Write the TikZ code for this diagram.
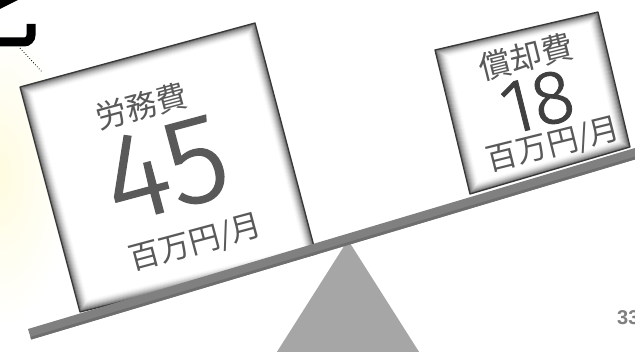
\documentclass[tikz,border=0pt]{standalone}
\usepackage{fontspec}
\newfontfamily\jp{Noto Sans CJK JP}
\newfontfamily\thin{Fira Sans Light}[FakeBold=1.2]
\newfontfamily\arialf{Liberation Sans}
\usetikzlibrary{calc}
\definecolor{txt}{HTML}{595959}
\definecolor{txtd}{HTML}{404040}
\definecolor{beamc}{HTML}{808080}
\definecolor{beamd}{HTML}{6E6E6E}
\definecolor{tric}{HTML}{A6A6A6}
\definecolor{pale}{HTML}{FFFCE0}
\definecolor{pnum}{HTML}{7F7F7F}
\newcommand\bevbox[5]{%
  \fill[white] (#1)--(#2)--(#3)--(#4)--cycle;
  \foreach \i/\c in {1/58,2/49,3/41,4/34,5/27,6/21,7/16,8/11,9/7,10/3}{
    \pgfmathsetmacro\dd{\i*1.3}
    \draw[black!\c, line width=1.4pt] ($(#1)!\dd pt!(#5)$)--($(#2)!\dd pt!(#5)$)--($(#3)!\dd pt!(#5)$)--($(#4)!\dd pt!(#5)$)--cycle;}
  \draw[black!78, line width=1.3pt, line join=round] (#1)--(#2)--(#3)--(#4)--cycle;
}
\tikzset{
  lbl/.style={text=txt, inner sep=0pt, text depth=0pt},
}
\begin{document}
\begin{tikzpicture}[x=1pt,y=-1pt]
\useasboundingbox (0,0) rectangle (635,352);
\clip (0,0) rectangle (635,352);
\fill[white] (0,0) rectangle (635,352);
\shade[inner color=pale, outer color=white] (0,175) ellipse (70 and 150);
% top-left black fragment
\fill[black] (0,0) -- (18,0) -- (0,9) -- cycle;
\draw[black, line width=9pt, rounded corners=7pt] (-6,42) -- (31,42) -- (31,24);
% dotted leader
\coordinate (d1) at (20,48);
\coordinate (d2) at (42,72);
\draw[black, dotted, line width=0.8pt] (d1) -- (d2);
% left box
\coordinate (A) at (20,87);
\coordinate (B) at (255,23);
\coordinate (C) at (316,254);
\coordinate (D) at (80,312);
\coordinate (O1) at (167.5,169);
\bevbox{A}{B}{C}{D}{O1}
\node[lbl, rotate=15, text height=24pt, font=\jp\fontsize{31}{31}\selectfont] (l1) at (141,106) {労務費};
\node[lbl, rotate=15, text height=84pt, font=\thin\fontsize{124}{124}\selectfont] (l2) at (165,168) {45};
\node[lbl, rotate=15, text height=24pt, font=\jp\fontsize{31}{31}\selectfont] (l3) at (195,241) {百万円/月};
% right box
\coordinate (E) at (435,50);
\coordinate (F) at (598,12);
\coordinate (G) at (630,147);
\coordinate (H) at (470,194);
\coordinate (O2) at (533,101);
\bevbox{E}{F}{G}{H}{O2}
\node[lbl, rotate=14, text height=24pt, font=\jp\fontsize{32}{32}\selectfont] (r1) at (526,57) {償却費};
\node[lbl, rotate=14, text=txtd, text height=52pt, font=\thin\fontsize{76}{76}\selectfont] (r2) at (537,101) {18};
\node[lbl, rotate=14, text height=24pt, font=\jp\fontsize{31}{31}\selectfont] (r3) at (553,143) {百万円/月};
% fulcrum
\coordinate (t1) at (348,240);
\coordinate (t2) at (268,366);
\coordinate (t3) at (428,366);
\fill[tric] (t1) -- (t2) -- (t3) -- cycle;
% beam
\coordinate (b1) at (28,329);
\coordinate (b2) at (650,143.5);
\coordinate (b3) at (653.2,154);
\coordinate (b4) at (31.2,339.5);
\fill[beamc] (b1) -- (b2) -- (b3) -- (b4) -- cycle;
\fill[beamd] ($(b4)!0.25!(b1)$) -- ($(b3)!0.25!(b2)$) -- (b3) -- (b4) -- cycle;
% page number
\node[text=pnum, anchor=west, inner sep=0pt, font=\arialf\bfseries\fontsize{20}{20}\selectfont] (pg) at (617,318) {33};
\end{tikzpicture}
\end{document}
